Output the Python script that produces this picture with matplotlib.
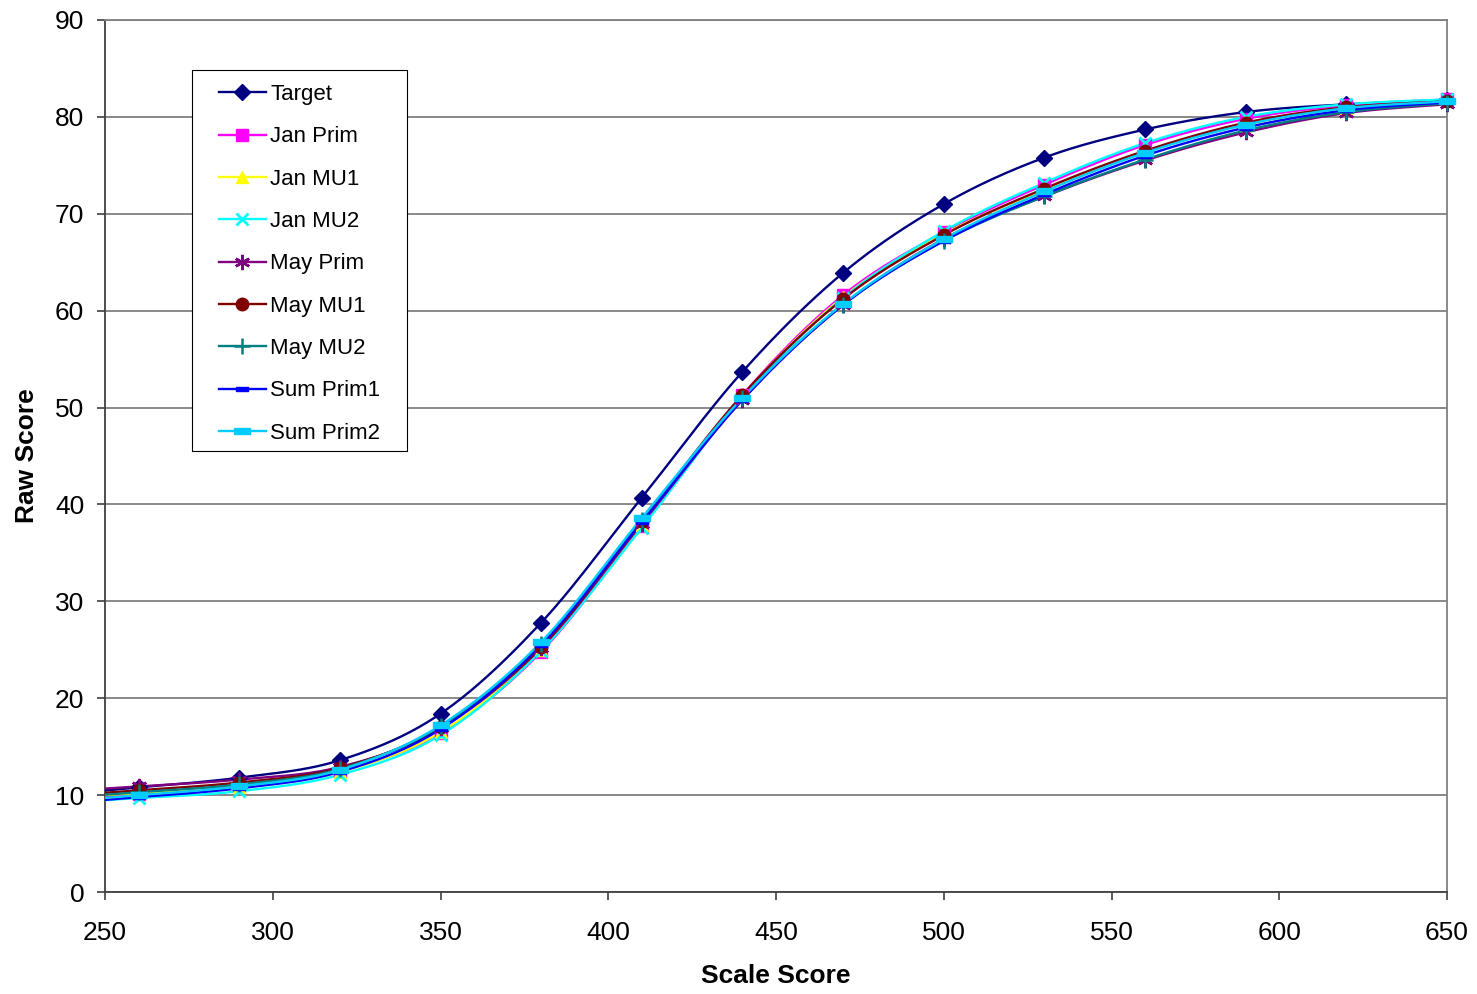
import numpy as np
import matplotlib
matplotlib.use("Agg")
import matplotlib.pyplot as plt
from matplotlib.patches import Rectangle

plt.rcParams['font.family'] = ['Liberation Sans', 'DejaVu Sans']

scale_score = [260, 290, 320, 350, 380, 410, 440, 470, 500, 530, 560, 590, 620, 650]

target    = [10.8, 11.8, 13.6, 18.4, 27.8, 40.7, 53.7, 63.9, 71.0, 75.8, 78.7, 80.5, 81.3, 81.7]
jan_prim  = [10.1, 10.9, 12.5, 16.4, 24.8, 37.8, 51.3, 61.6, 68.1, 73.0, 77.1, 79.8, 81.2, 81.8]
jan_mu1   = [10.2, 10.8, 12.4, 16.5, 25.0, 37.9, 51.2, 61.4, 67.9, 72.5, 76.4, 79.2, 80.9, 81.6]
jan_mu2   = [9.7, 10.4, 12.1, 16.2, 24.9, 37.6, 51.0, 61.3, 68.2, 73.2, 77.3, 80.0, 81.3, 81.8]
may_prim  = [10.9, 11.6, 12.9, 16.9, 25.2, 38.0, 50.8, 60.6, 67.4, 71.8, 75.5, 78.4, 80.4, 81.3]
may_mu1   = [10.5, 11.3, 12.8, 17.0, 25.3, 38.3, 51.3, 61.2, 67.8, 72.6, 76.5, 79.4, 81.0, 81.6]
may_mu2   = [10.3, 11.1, 12.7, 17.1, 25.6, 38.4, 51.0, 60.6, 67.2, 71.8, 75.6, 78.6, 80.5, 81.4]
sum_prim1 = [9.8, 10.7, 12.4, 16.8, 25.5, 38.2, 50.8, 60.6, 67.2, 72.0, 76.0, 78.9, 80.7, 81.5]
sum_prim2 = [10.0, 10.9, 12.6, 17.2, 25.8, 38.6, 51.0, 60.7, 67.4, 72.3, 76.3, 79.2, 80.9, 81.6]

series_names = ["Target", "Jan Prim", "Jan MU1", "Jan MU2", "May Prim",
                "May MU1", "May MU2", "Sum Prim1", "Sum Prim2"]
series_values = [target, jan_prim, jan_mu1, jan_mu2, may_prim,
                 may_mu1, may_mu2, sum_prim1, sum_prim2]

bar_small = [(-0.6, -0.25), (0.6, -0.25), (0.6, 0.25), (-0.6, 0.25), (-0.6, -0.25)]
bar_big = [(-1, -0.35), (1, -0.35), (1, 0.35), (-1, 0.35), (-1, -0.35)]
styles = [
    dict(color="#000080", marker="D", ms=8),
    dict(color="#FF00FF", marker="s", ms=9),
    dict(color="#FFFF00", marker="^", ms=9),
    dict(color="#00FFFF", marker="x", ms=9, mew=2),
    dict(color="#800080", marker=(6, 2, 0), ms=11, mew=1.8),
    dict(color="#800000", marker="o", ms=9),
    dict(color="#008080", marker="+", ms=12, mew=1.8),
    dict(color="#0000FF", marker=bar_small, ms=8),
    dict(color="#00CCFF", marker=bar_big, ms=12),
]

XMIN, XMAX, YMIN, YMAX = 250, 650, 0, 90
SX, SY = 1342 / (XMAX - XMIN), 872 / (YMAX - YMIN)


def smooth(xs, ys, n=24):
    px = (np.asarray(xs, float) - XMIN) * SX
    py = np.asarray(ys, float) * SY
    P = np.column_stack([px, py])
    m = len(P)
    out = []
    for i in range(m - 1):
        p0 = P[i - 1] if i > 0 else P[i]
        p1 = P[i]
        p2 = P[i + 1]
        p3 = P[i + 2] if i + 2 < m else P[i + 1]
        c1 = p1 + (p2 - p0) / 6.0
        c2 = p2 - (p3 - p1) / 6.0
        t = np.linspace(0, 1, n)[:, None]
        seg = ((1 - t) ** 3) * p1 + 3 * ((1 - t) ** 2) * t * c1 + 3 * (1 - t) * t ** 2 * c2 + t ** 3 * p2
        if i > 0:
            seg = seg[1:]
        out.append(seg)
    C = np.vstack(out)
    d = C[1] - C[0]
    if d[0] != 0:
        k = (0 - C[0][0]) / d[0]
        start = C[0] + k * d
        C = np.vstack([start, C])
    return C[:, 0] / SX + XMIN, C[:, 1] / SY


W, H = 1477, 994
fig = plt.figure(figsize=(W / 100, H / 100), dpi=100)
ax = fig.add_axes([105 / W, 102 / H, 1342 / W, 872 / H])

for name, vals, st in zip(series_names, series_values, styles):
    sx, sy = smooth(scale_score, vals)
    ax.plot(sx, sy, color=st["color"], lw=1.7, zorder=3)
    ax.plot(scale_score, vals, linestyle="none", marker=st["marker"], ms=st["ms"],
            color=st["color"], mfc=st["color"], mec=st["color"], mew=st.get("mew", 1),
            clip_on=False, zorder=4)
    ax.plot([], [], color=st["color"], lw=1.7, marker=st["marker"], ms=st["ms"],
            mfc=st["color"], mec=st["color"], mew=st.get("mew", 1), label=name)

ax.set_xlim(XMIN, XMAX)
ax.set_ylim(YMIN, YMAX)
ax.set_xticks(np.arange(250, 651, 50))
ax.set_yticks(np.arange(0, 91, 10))
ax.yaxis.grid(True, color="#808080", lw=1.3)
ax.set_axisbelow(True)
for s in ax.spines.values():
    s.set_color("#808080")
    s.set_linewidth(1.3)
ax.spines["left"].set_color("#404040")
ax.spines["bottom"].set_color("#404040")
ax.tick_params(direction="out", length=6, width=1.2, color="#404040", labelsize=19)
ax.tick_params(axis="x", pad=15)
ax.tick_params(axis="y", pad=9)
xl = ax.set_xlabel("Scale Score", fontsize=19, fontweight="bold")
yl = ax.set_ylabel("Raw Score", fontsize=19, fontweight="bold")
xl.set_va("center")
yl.set_va("center")
ax.xaxis.set_label_coords(0.5, (892 - 976) / 872)
ax.yaxis.set_label_coords((27 - 105) / 1342, 0.5)

# legend frame drawn as a patch, legend content without its own frame
frame = Rectangle((192 / W, 1 - 451 / H), (407 - 192) / W, (451 - 70) / H,
                  transform=fig.transFigure, facecolor="white",
                  edgecolor="black", lw=0.8, zorder=5, clip_on=False)
ax.add_patch(frame)
leg = ax.legend(loc="upper left", bbox_to_anchor=(219 / W, 1 - 84 / H),
                bbox_transform=fig.transFigure,
                borderaxespad=0, borderpad=0, fontsize=16, frameon=False,
                handlelength=2.1, labelspacing=0.96, handletextpad=0.2, numpoints=1)
leg.set_zorder(6)

fig.savefig("out.png", dpi=100)
